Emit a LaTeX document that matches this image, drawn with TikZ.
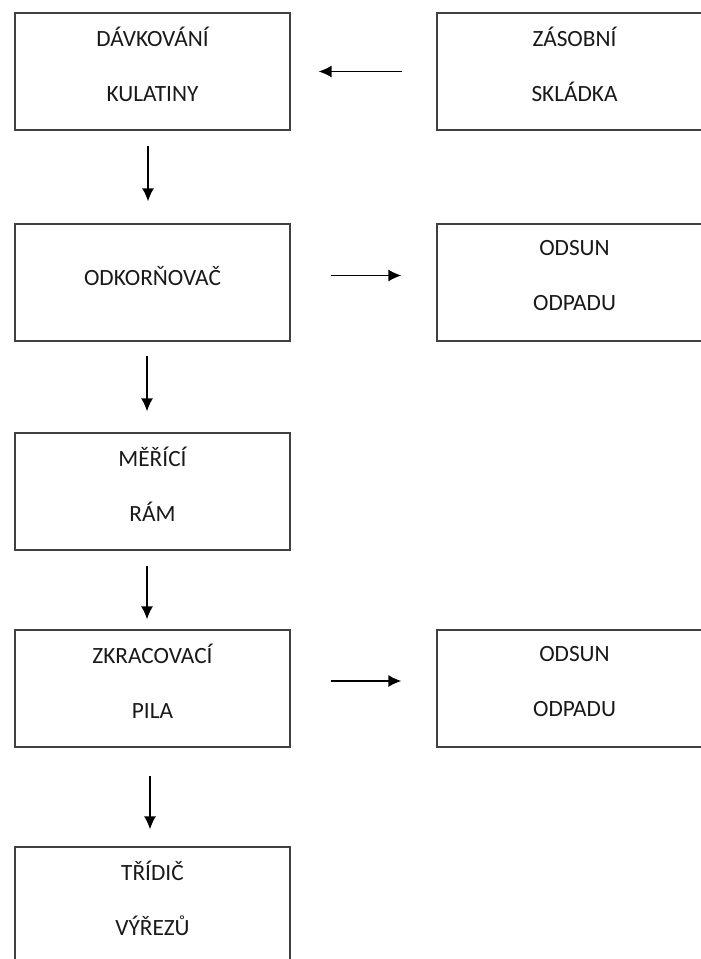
\documentclass[tikz,border=0pt]{standalone}
\usepackage{fontspec}
\setmainfont{Carlito}
\usetikzlibrary{positioning,arrows.meta}
\tikzstyle{blok}=[draw=black!75, line width=1.3pt, fill=white, minimum height=117pt, minimum width=275pt, align=center, text=black!90, text depth=14pt, font=\fontsize{23.3}{55}\selectfont]
\tikzstyle{sipka}=[->, line width=1.5pt]

\begin{document}
\begin{tikzpicture}[x=1pt,y=1pt,>={Latex[length=13pt,width=12pt]}]
\clip (0,0) rectangle (701,-959);
\useasboundingbox (0,0) rectangle (701,-959);

\node[blok] at (152.5,-71.5) (dav) {DÁVKOVÁNÍ\\KULATINY};
\node[blok, right of = dav, node distance = 422pt] (zas) {ZÁSOBNÍ\\SKLÁDKA};
\draw[sipka, shorten <=34pt, shorten >=28pt] (zas.west) -- (dav.east);

\node[blok, below of = dav, node distance = 211pt] (odk) {ODKORŇOVAČ};
\draw[sipka, shorten <=15pt, shorten >=22pt] ([xshift=-4.5pt]dav.south) -- ([xshift=-4.5pt]odk.north);

\node[blok, right of = odk, node distance = 422pt] (ods1) {ODSUN\\ODPADU};
\draw[sipka, shorten <=40pt, shorten >=35pt] ([yshift=7pt]odk.east) -- ([yshift=7pt]ods1.west);

\node[blok, below of = odk, node distance = 209pt] (mer) {MĚŘÍCÍ\\RÁM};
\draw[sipka, shorten <=14pt, shorten >=21pt] ([xshift=-5.5pt]odk.south) -- ([xshift=-5.5pt]mer.north);

\node[blok, below of = mer, node distance = 197pt] (zkr) {ZKRACOVACÍ\\PILA};
\draw[sipka, shorten <=15pt, shorten >=10pt] ([xshift=-5.5pt]mer.south) -- ([xshift=-5.5pt]zkr.north);

\node[blok, right of = zkr, node distance = 422pt] (ods2) {ODSUN\\ODPADU};
\draw[sipka, shorten <=40pt, shorten >=35pt] ([yshift=7.5pt]zkr.east) -- ([yshift=7.5pt]ods2.west);

\node[blok, below of = zkr, node distance = 217pt] (tri) {TŘÍDIČ\\VÝŘEZŮ};
\draw[sipka, shorten <=28pt, shorten >=17pt] ([xshift=-2.5pt]zkr.south) -- ([xshift=-2.5pt]tri.north);
\end{tikzpicture}
\end{document}
